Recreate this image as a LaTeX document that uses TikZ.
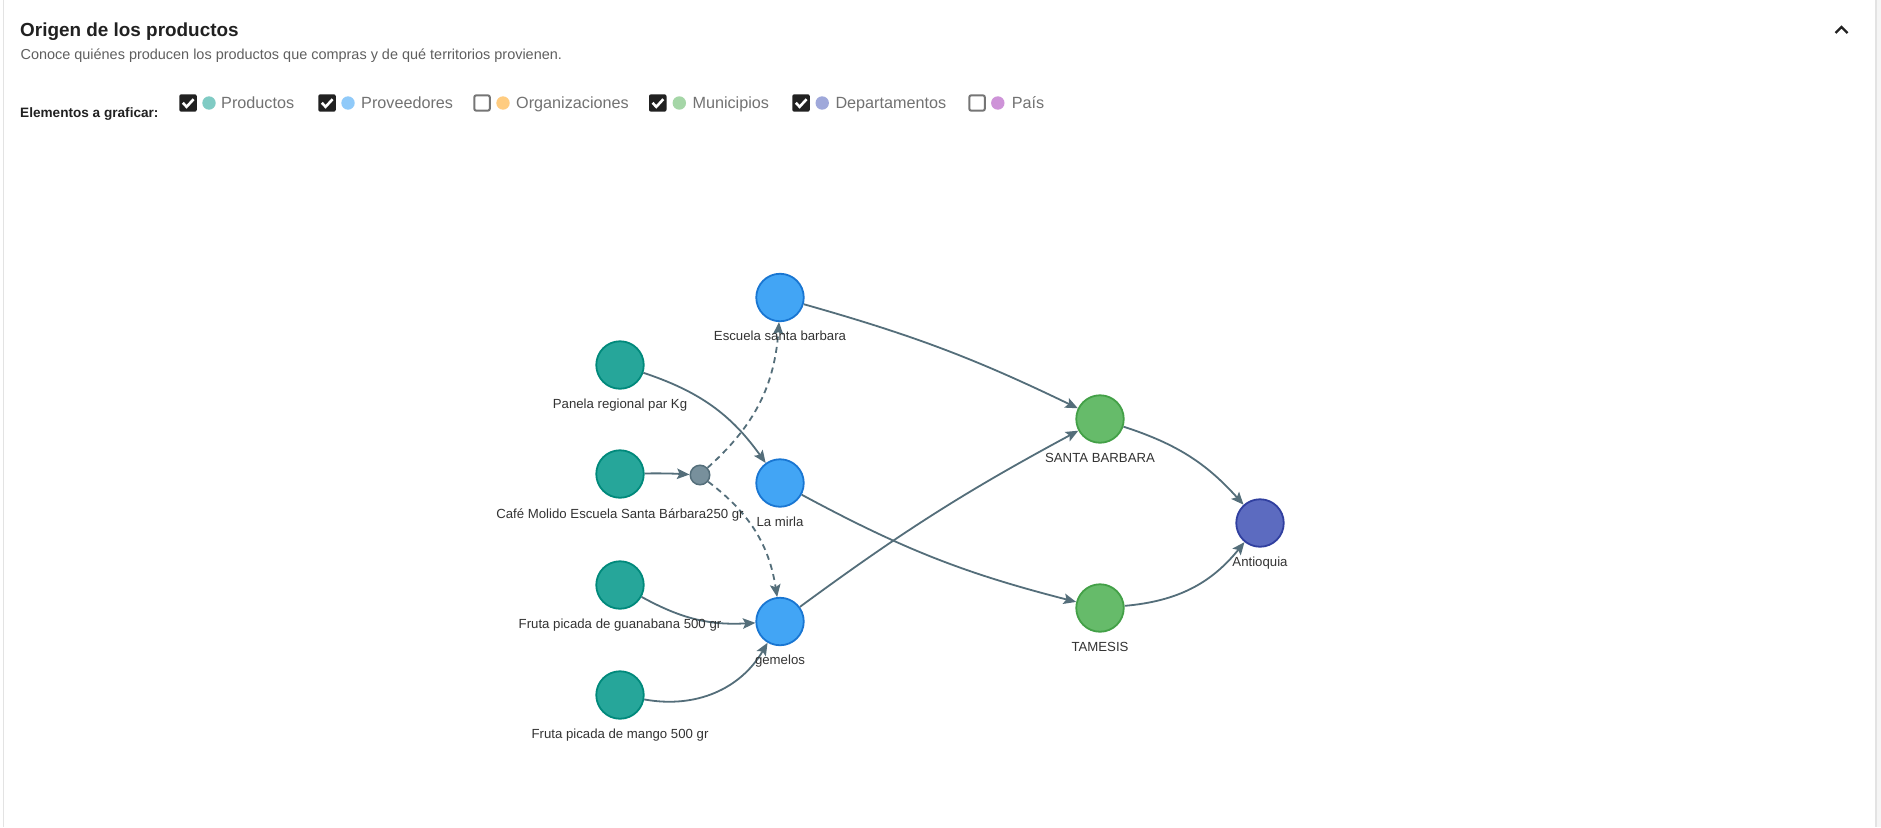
\documentclass[tikz,border=0pt]{standalone}
\usepackage{fontspec}
\setmainfont{Liberation Sans}
\usetikzlibrary{arrows.meta}
\pgfdeclarelayer{background}
\pgfsetlayers{background,main}
\definecolor{edgec}{HTML}{546E7A}
\definecolor{prodF}{HTML}{26A69A}
\definecolor{prodD}{HTML}{00897B}
\definecolor{provF}{HTML}{42A5F5}
\definecolor{provD}{HTML}{1976D2}
\definecolor{munF}{HTML}{66BB6A}
\definecolor{munD}{HTML}{43A047}
\definecolor{depF}{HTML}{5C6BC0}
\definecolor{depD}{HTML}{303F9F}
\definecolor{smF}{HTML}{78909C}
\definecolor{smD}{HTML}{546E7A}
\definecolor{lblc}{HTML}{333333}
\definecolor{titc}{HTML}{212121}
\definecolor{subc}{HTML}{5F5F5F}
\definecolor{legc}{HTML}{727272}
\definecolor{boxc}{HTML}{212121}
\definecolor{uboxc}{HTML}{757575}
\definecolor{cardc}{HTML}{E3E3E3}
\definecolor{dotA}{HTML}{80CBC4}
\definecolor{dotB}{HTML}{90CAF9}
\definecolor{dotC}{HTML}{FFCC80}
\definecolor{dotD}{HTML}{A5D6A7}
\definecolor{dotE}{HTML}{9FA8DA}
\definecolor{dotF}{HTML}{CE93D8}
\begin{document}
\begin{tikzpicture}[x=1pt,y=-1pt,
  gnode/.style={circle, inner sep=0pt, minimum size=47.5pt, line width=1.8pt},
  prodn/.style={gnode, fill=prodF, draw=prodD},
  provn/.style={gnode, fill=provF, draw=provD},
  munn/.style={gnode, fill=munF, draw=munD},
  depn/.style={gnode, fill=depF, draw=depD},
  smn/.style={circle, inner sep=0pt, minimum size=19.5pt, line width=1.5pt, fill=smF, draw=smD},
  lbl/.style={font=\fontsize{13.2}{15}\selectfont, text=lblc, anchor=base, inner sep=0pt},
  edg/.style={draw=edgec, line width=1.8pt, -{Stealth[length=12.5pt,width=10.5pt,inset=2.5pt]}},
  dsh/.style={edg, dash pattern=on 6pt off 4.5pt},
  legtxt/.style={font=\fontsize{16.2}{19}\selectfont, text=legc, anchor=base west, inner sep=0pt},
  chk/.style={fill=boxc, rounded corners=2pt},
  unchk/.style={draw=uboxc, line width=2pt, rounded corners=2pt},
  tick/.style={draw=white, line width=2.6pt}
]
\useasboundingbox (0,0) rectangle (1881,827);
\begin{pgfonlayer}{background}
\fill[white] (0,0) rectangle (1881,827);
\fill[black!4] (1876,0) rectangle (1881,827);
\draw[cardc, line width=1.2pt] (3.5,0) -- (3.5,827);
\draw[cardc, line width=1.2pt] (1876,0) -- (1876,827);
\end{pgfonlayer}

% header
\node[anchor=base west, inner sep=0pt, font=\bfseries\fontsize{18.9}{22}\selectfont, text=titc] (title) at (20,36) {Origen de los productos};
\node[anchor=base west, inner sep=0pt, font=\fontsize{14.45}{17}\selectfont, text=subc] (subtitle) at (20.4,59.5) {Conoce quiénes producen los productos que compras y de qué territorios provienen.};
\draw[titc, line width=2.2pt] (1835.5,33) -- (1841.5,27) -- (1847.5,33);

% legend
\node[anchor=base west, inner sep=0pt, font=\bfseries\fontsize{13.6}{16}\selectfont, text=titc] (legtitle) at (20,117.5) {Elementos a graficar:};
% Productos
\fill[chk] (179.3,94.3) rectangle ++(17.5,17.4);
\draw[tick] (182.8,102.8) -- (186.6,106.8) -- (193.6,99.2);
\fill[dotA] (209,103) circle (6.7);
\node[legtxt] (lgA) at (221,108.5) {Productos};
% Proveedores
\fill[chk] (318.3,94.3) rectangle ++(17.5,17.4);
\draw[tick] (321.8,102.8) -- (325.6,106.8) -- (332.6,99.2);
\fill[dotB] (348,103) circle (6.7);
\node[legtxt] (lgB) at (361,108.5) {Proveedores};
% Organizaciones
\draw[unchk] (474.3,95.3) rectangle ++(15.5,15.4);
\fill[dotC] (503,103) circle (6.7);
\node[legtxt] (lgC) at (516,108.5) {Organizaciones};
% Municipios
\fill[chk] (649,94.3) rectangle ++(17.5,17.4);
\draw[tick] (652.5,102.8) -- (656.3,106.8) -- (663.3,99.2);
\fill[dotD] (679.3,103) circle (6.7);
\node[legtxt] (lgD) at (692.3,108.5) {Municipios};
% Departamentos
\fill[chk] (792.3,94.3) rectangle ++(17.5,17.4);
\draw[tick] (795.8,102.8) -- (799.6,106.8) -- (806.6,99.2);
\fill[dotE] (822.2,103) circle (6.7);
\node[legtxt] (lgE) at (835.3,108.5) {Departamentos};
% Pais
\draw[unchk] (969.3,95.3) rectangle ++(15.5,15.4);
\fill[dotF] (997.8,103) circle (6.7);
\node[legtxt] (lgF) at (1011.7,108.5) {País};

% graph nodes
\node[prodn] (p1) at (620,365) {};
\node[prodn] (p2) at (620,474) {};
\node[prodn] (p3) at (620,585) {};
\node[prodn] (p4) at (620,695) {};
\node[smn] (sm) at (700,475) {};
\node[provn] (esc) at (780,297.5) {};
\node[provn] (mirla) at (780,483) {};
\node[provn] (gem) at (780,621.5) {};
\node[munn] (sb) at (1100,419) {};
\node[munn] (tam) at (1100,608) {};
\node[depn] (ant) at (1260,523) {};

% labels
\node[lbl] (p1L) at (620,408.5) {Panela regional par Kg};
\node[lbl] (p2L) at (620,518.5) {Café Molido Escuela Santa Bárbara250 gr};
\node[lbl] (p3L) at (620,628.5) {Fruta picada de guanabana 500 gr};
\node[lbl] (p4L) at (620,738.5) {Fruta picada de mango 500 gr};
\node[lbl] (escL) at (780,340.5) {Escuela santa barbara};
\node[lbl] (mirlaL) at (780,526) {La mirla};
\node[lbl] (gemL) at (780,664.5) {gemelos};
\node[lbl] (sbL) at (1100,462) {SANTA BARBARA};
\node[lbl] (tamL) at (1100,651) {TAMESIS};
\node[lbl] (antL) at (1260,566) {Antioquia};

% edges
\begin{pgfonlayer}{background}
\draw[edg] (esc) to[bend left=5] (sb);
\draw[edg] (p1) to[bend left=18] (mirla);
\draw[edg] (p2) to[bend left=2] (sm);
\draw[dsh] (sm) to[bend right=22] (esc);
\draw[dsh] (sm) to[bend left=22] (gem);
\draw[edg] (p3) to[bend right=16] (gem);
\draw[edg] (p4) to[bend right=35] (gem);
\draw[edg] (mirla) to[bend right=7] (tam);
\draw[edg] (gem) to[bend left=4] (sb);
\draw[edg] (sb) to[bend left=15] (ant);
\draw[edg] (tam) to[bend right=23] (ant);
\end{pgfonlayer}
\end{tikzpicture}
\end{document}
